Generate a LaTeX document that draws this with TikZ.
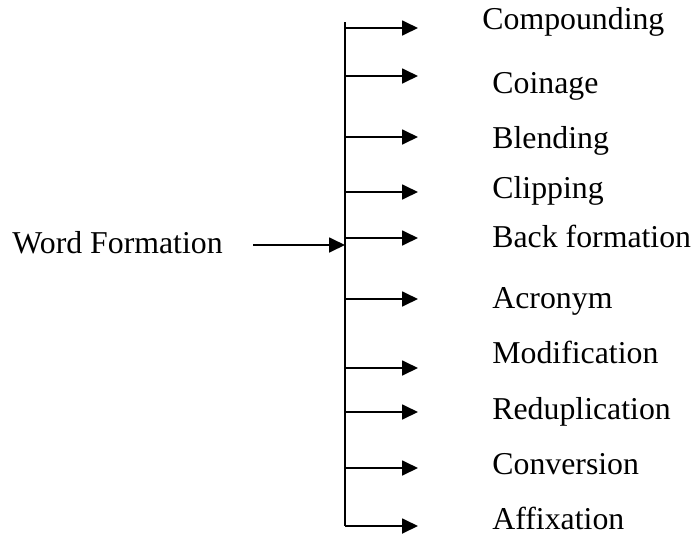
\documentclass[tikz,border=0pt]{standalone}
\usepackage{fontspec}
\setmainfont{Liberation Serif}
\usetikzlibrary{arrows.meta, positioning}

\begin{document}
\begin{tikzpicture}[x=0.5pt, y=-0.5pt,
  lbl/.style={anchor=base west, inner sep=0pt, font=\fontsize{15.9}{18}\selectfont},
  arrow/.style={-{Triangle[length=8pt, width=7.5pt]}, line width=0.9pt},
  trunk/.style={line width=0.9pt}
]
  \useasboundingbox (0,0) rectangle (691,536);

  % labels
  \node[lbl] (WF) at (12,253) {Word Formation};
  \node[lbl] (L1) at (482,29) {Compounding};
  \node[lbl] (L2) at (492,93) {Coinage};
  \node[lbl] (L3) at (492,148) {Blending};
  \node[lbl] (L4) at (492,198) {Clipping};
  \node[lbl] (L5) at (492,247) {Back formation};
  \node[lbl] (L6) at (492,308) {Acronym};
  \node[lbl] (L7) at (492,363) {Modification};
  \node[lbl] (L8) at (492,419) {Reduplication};
  \node[lbl] (L9) at (492,474) {Conversion};
  \node[lbl] (L10) at (492,529) {Affixation};

  % vertical bar and input
  \coordinate (top) at (345,22);
  \coordinate (bottom) at (345,526);
  \coordinate (hub) at (345,245);
  \coordinate (in) at (253,245);
  \draw[trunk] (top) -- (bottom);
  \draw[arrow] (in) -- (hub);

  % branches
  \foreach \y [count=\i] in {28,76,137,192,238,299,368,412,468,526} {
    \coordinate (B\i) at (345,\y);
    \coordinate (E\i) at (418,\y);
    \draw[arrow] (B\i) -- (E\i);
  }
\end{tikzpicture}
\end{document}
